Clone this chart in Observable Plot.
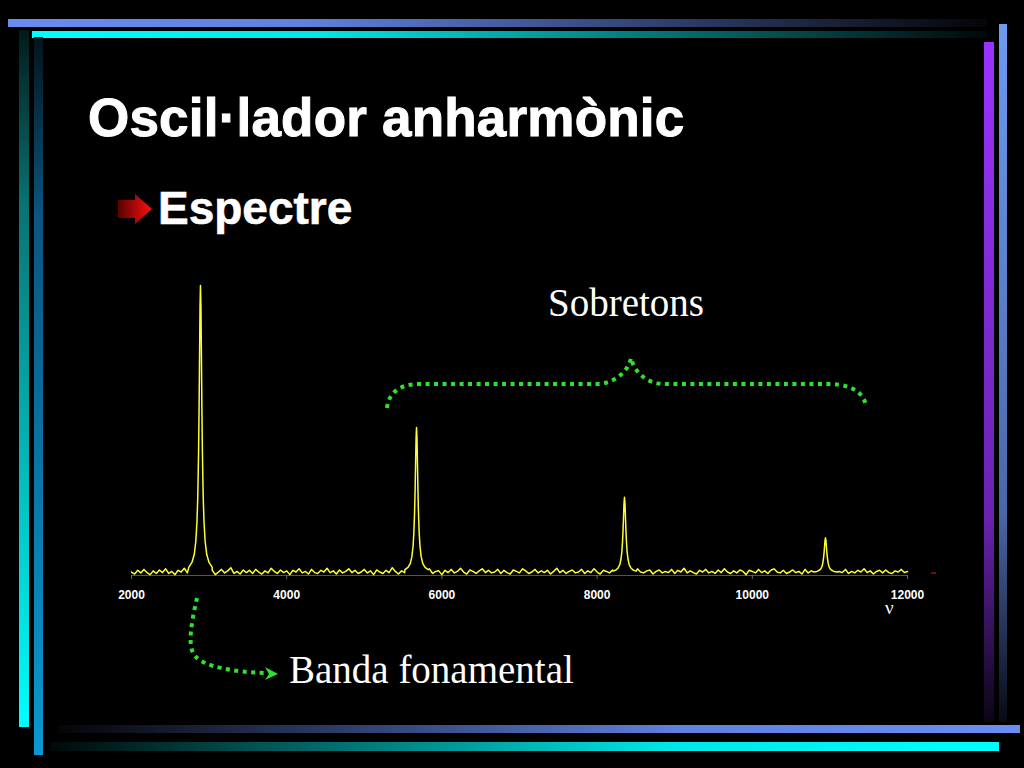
<!DOCTYPE html>
<html>
<head>
<meta charset="utf-8">
<script src="https://cdn.jsdelivr.net/npm/d3@7"></script>
<script src="https://cdn.jsdelivr.net/npm/@observablehq/plot@0.6"></script>
<style>
  html, body { margin: 0; padding: 0; background: #000; }
  #page { position: relative; width: 1024px; height: 768px; background: #000; overflow: hidden; }
  .abs { position: absolute; }
  #title { left: 88px; top: 87px; font: bold 53px "Liberation Sans", Arial, sans-serif; color: #fff; white-space: nowrap; letter-spacing: 0.2px; -webkit-text-stroke: 1px #fff; }
  #sub { left: 158px; top: 181px; font: bold 46px "Liberation Sans", Arial, sans-serif; color: #fff; white-space: nowrap; -webkit-text-stroke: 0.6px #fff; }
  .serif { font-family: "Liberation Serif", "Times New Roman", serif; color: #fff; white-space: nowrap; }
  #sobre { left: 548px; top: 280px; font-size: 39px; }
  #banda { left: 289px; top: 647px; font-size: 39px; }
  #nu { left: 885px; top: 602px; font-size: 19px; line-height: 12px; height: 12px; }
  #chart { left: 0; top: 260px; }
</style>
</head>
<body>
<div id="page">
  <svg class="abs" style="left:0;top:0" width="1024" height="768">
    <defs>
      <linearGradient id="gTopBlue" x1="0" x2="1" y1="0" y2="0">
        <stop offset="0" stop-color="#6a8cf0"/><stop offset="0.3" stop-color="#5f82e0"/><stop offset="1" stop-color="#050508"/>
      </linearGradient>
      <linearGradient id="gTopCyan" x1="0" x2="1" y1="0" y2="0">
        <stop offset="0" stop-color="#00ffff"/><stop offset="0.3" stop-color="#00e6e6"/><stop offset="1" stop-color="#020808"/>
      </linearGradient>
      <linearGradient id="gBotBlue" x1="0" x2="1" y1="0" y2="0">
        <stop offset="0" stop-color="#050508"/><stop offset="0.65" stop-color="#5f82e0"/><stop offset="1" stop-color="#6a8ef2"/>
      </linearGradient>
      <linearGradient id="gBotCyan" x1="0" x2="1" y1="0" y2="0">
        <stop offset="0" stop-color="#020808"/><stop offset="0.65" stop-color="#00e6e6"/><stop offset="1" stop-color="#00ffff"/>
      </linearGradient>
      <linearGradient id="gLeftA" x1="0" x2="0" y1="0" y2="1">
        <stop offset="0" stop-color="#041a1a"/><stop offset="0.25" stop-color="#0a7272"/><stop offset="1" stop-color="#00ffff"/>
      </linearGradient>
      <linearGradient id="gLeftB" x1="0" x2="0" y1="0" y2="1">
        <stop offset="0" stop-color="#04141c"/><stop offset="0.25" stop-color="#0a5680"/><stop offset="1" stop-color="#0a98d0"/>
      </linearGradient>
      <linearGradient id="gRightP" x1="0" x2="0" y1="0" y2="1">
        <stop offset="0" stop-color="#9933ff"/><stop offset="0.7" stop-color="#6a22b0"/><stop offset="1" stop-color="#0a0514"/>
      </linearGradient>
      <linearGradient id="gRightB" x1="0" x2="0" y1="0" y2="1">
        <stop offset="0" stop-color="#6f9af0"/><stop offset="0.7" stop-color="#4a68a8"/><stop offset="1" stop-color="#080a14"/>
      </linearGradient>
      <linearGradient id="gArrow" x1="0" x2="1" y1="0" y2="0">
        <stop offset="0" stop-color="#5a0000"/><stop offset="1" stop-color="#ff1010"/>
      </linearGradient>
    </defs>
    <rect x="8" y="19" width="979" height="8" fill="url(#gTopBlue)"/>
    <rect x="32" y="31" width="955" height="7" fill="url(#gTopCyan)"/>
    <rect x="19" y="30" width="10" height="697" fill="url(#gLeftA)"/>
    <rect x="34" y="37" width="9" height="718" fill="url(#gLeftB)"/>
    <rect x="58" y="725" width="962" height="8" fill="url(#gBotBlue)"/>
    <rect x="50" y="742" width="949" height="9" fill="url(#gBotCyan)"/>
    <rect x="984" y="42" width="10" height="680" fill="url(#gRightP)"/>
    <rect x="999" y="24" width="8" height="698" fill="url(#gRightB)"/>
    <polygon points="118,200 135,200 135,194 152,209 135,224 135,218 118,218" fill="url(#gArrow)"/>
    <g fill="none" stroke="#2fe02f" stroke-width="4" stroke-dasharray="4 4.5">
      <path d="M387,408 C389,392 400,384 420,384 L600,384 C615,382 628,372 631,358 C634,372 647,383 662,384 L832,384 C852,385 864,393 866,406"/>
      <path d="M197,598 C192,620 186,648 196,657 C205,666 230,672 266,673"/>
    </g>
    <polygon points="265,667 278,674 265,680 269,674" fill="#2fe02f"/>
    <rect x="931" y="572" width="5" height="2" fill="#7a0a0a"/>
  </svg>
  <div id="title" class="abs">Oscil·lador anharmònic</div>
  <div id="sub" class="abs">Espectre</div>
  <div id="sobre" class="abs serif">Sobretons</div>
  <div id="banda" class="abs serif">Banda fonamental</div>
  <div id="nu" class="abs serif">ν</div>
  <div id="chart" class="abs"></div>
</div>
<script>
// x tick values (wavenumber)
const xTicks = [2000, 4000, 6000, 8000, 10000, 12000];

// baseline noise, sampled every 40 units from 2000 to 12000
const noiseStart = 2000;
const noiseStep = 40;
const noise = [
  1.2,0.5,1.8,0.9,2.1,1.0,0.3,1.6,0.7,1.9,
  1.0,2.3,0.7,1.4,0.3,1.8,1.2,2.5,0.9,1.6,
  0.5,1.9,1.0,1.4,2.3,0.7,1.8,0.3,1.2,2.1,
  0.9,1.6,2.7,0.7,1.4,0.5,1.9,1.0,1.8,0.7,
  2.1,1.2,0.5,1.6,0.9,2.5,1.4,0.7,1.9,1.0,
  1.6,0.3,1.8,1.2,2.3,0.9,1.4,0.5,2.1,1.0,
  0.7,1.8,1.2,2.5,1.0,1.6,0.5,1.9,0.9,1.4,
  2.3,1.0,1.8,0.7,1.2,2.1,0.9,1.6,0.3,1.9,
  1.2,0.7,1.8,1.0,2.7,1.4,0.5,1.6,1.0,2.1,
  0.9,1.9,1.2,0.5,1.8,1.0,2.3,0.7,1.4,1.6,
  0.3,1.8,1.0,2.1,0.9,1.4,2.5,1.2,0.5,1.9,
  1.4,0.7,1.6,2.3,1.0,1.8,0.9,1.2,2.1,0.7,
  1.8,1.0,0.5,1.9,1.4,0.9,2.3,1.6,0.7,1.2,
  2.1,0.9,1.6,1.0,1.8,0.5,1.4,2.5,1.0,1.8,
  0.7,1.4,1.9,0.9,1.2,2.1,0.7,1.6,1.0,2.3,
  1.2,0.5,1.8,1.4,0.9,1.9,1.0,0.7,1.6,2.1,
  1.0,1.8,0.7,2.3,1.2,0.9,1.6,1.9,0.5,1.4,
  1.9,0.9,1.4,1.0,2.1,0.7,1.8,1.2,2.5,0.9,
  1.6,1.0,0.5,1.8,1.2,2.1,0.9,1.4,0.7,1.9,
  1.0,2.3,1.2,0.7,1.6,0.9,1.9,1.4,0.3,1.8,
  1.4,0.9,2.1,1.0,1.6,0.7,1.8,2.3,1.2,0.9,
  1.8,0.7,1.2,1.9,1.0,1.4,0.5,2.1,0.9,1.6,
  1.2,1.9,0.9,1.6,2.5,1.0,0.7,1.8,1.4,1.0,
  2.1,0.7,1.4,0.9,1.8,1.2,2.3,1.0,1.6,0.5,
  1.4,1.8,0.9,1.9,1.0,0.7,1.6,1.2,2.1,1.0,
  1.4
];

// peak profiles: wavenumber and intensity (fundamental + 3 overtones)
const peak1Nu = [2739,2779,2809,2829,2844,2854,2864,2871,2877,2883,2889,2895,2901,2907,2914,2924,2934,2949,2969,2999,3039];
const peak1I  = [2.9,4.5,7.3,11.8,18.7,27.2,42,58,75.6,92.6,100,92.6,75.6,58,42,27.2,18.7,11.8,7.3,4.5,2.9];
const peak2Nu = [5523,5563,5593,5613,5628,5638,5648,5655,5661,5667,5673,5679,5685,5691,5698,5708,5718,5733,5753,5783,5823];
const peak2I  = [2.0,2.8,4.2,6.5,10,14.3,21.7,29.8,38.7,47.3,51,47.3,38.7,29.8,21.7,14.3,10,6.5,4.2,2.8,2.0];
const peak3Nu = [8203,8243,8273,8293,8308,8318,8328,8335,8341,8347,8353,8359,8365,8371,8378,8388,8398,8413,8433,8463,8503];
const peak3I  = [1.5,1.9,2.7,3.8,5.7,7.9,11.8,16,20.6,25,27,25,20.6,16,11.8,7.9,5.7,3.8,2.7,1.9,1.5];
const peak4Nu = [10793,10833,10863,10883,10898,10908,10918,10925,10931,10937,10943,10949,10955,10961,10968,10978,10988,11003,11023,11053,11093];
const peak4I  = [1.2,1.4,1.8,2.3,3.1,4.2,6,7.9,10,12.1,13,12.1,10,7.9,6,4.2,3.1,2.3,1.8,1.4,1.2];

const peaks = [[peak1Nu, peak1I], [peak2Nu, peak2I], [peak3Nu, peak3I], [peak4Nu, peak4I]];
const spectrum = [];
noise.forEach((v, i) => {
  const nu = noiseStart + i * noiseStep;
  if (!peaks.some(([n]) => nu >= n[0] && nu <= n[n.length - 1])) spectrum.push({nu, I: v});
});
peaks.forEach(([n, I]) => n.forEach((nu, i) => spectrum.push({nu, I: I[i]})));
spectrum.sort((a, b) => a.nu - b.nu);

const chart = Plot.plot({
  width: 1024,
  height: 380,
  marginLeft: 131,
  marginRight: 117,
  marginTop: 25,
  marginBottom: 65,
  style: {background: "transparent", color: "#fff", fontFamily: "Liberation Sans, Arial, sans-serif"},
  x: {domain: [2000, 12000]},
  y: {domain: [0, 100], axis: null},
  marks: [
    Plot.ruleY([0], {stroke: "#555544", strokeWidth: 1}),
    Plot.axisX({ticks: xTicks, tickFormat: d => String(d), tickSize: 4, tickPadding: 11, stroke: "#666", fill: "#fff", fontSize: 12, fontWeight: "bold", label: null}),
    Plot.line(spectrum, {x: "nu", y: "I", stroke: "#ffff30", strokeWidth: 1.5})
  ]
});
document.getElementById("chart").appendChild(chart);
</script>
</body>
</html>
